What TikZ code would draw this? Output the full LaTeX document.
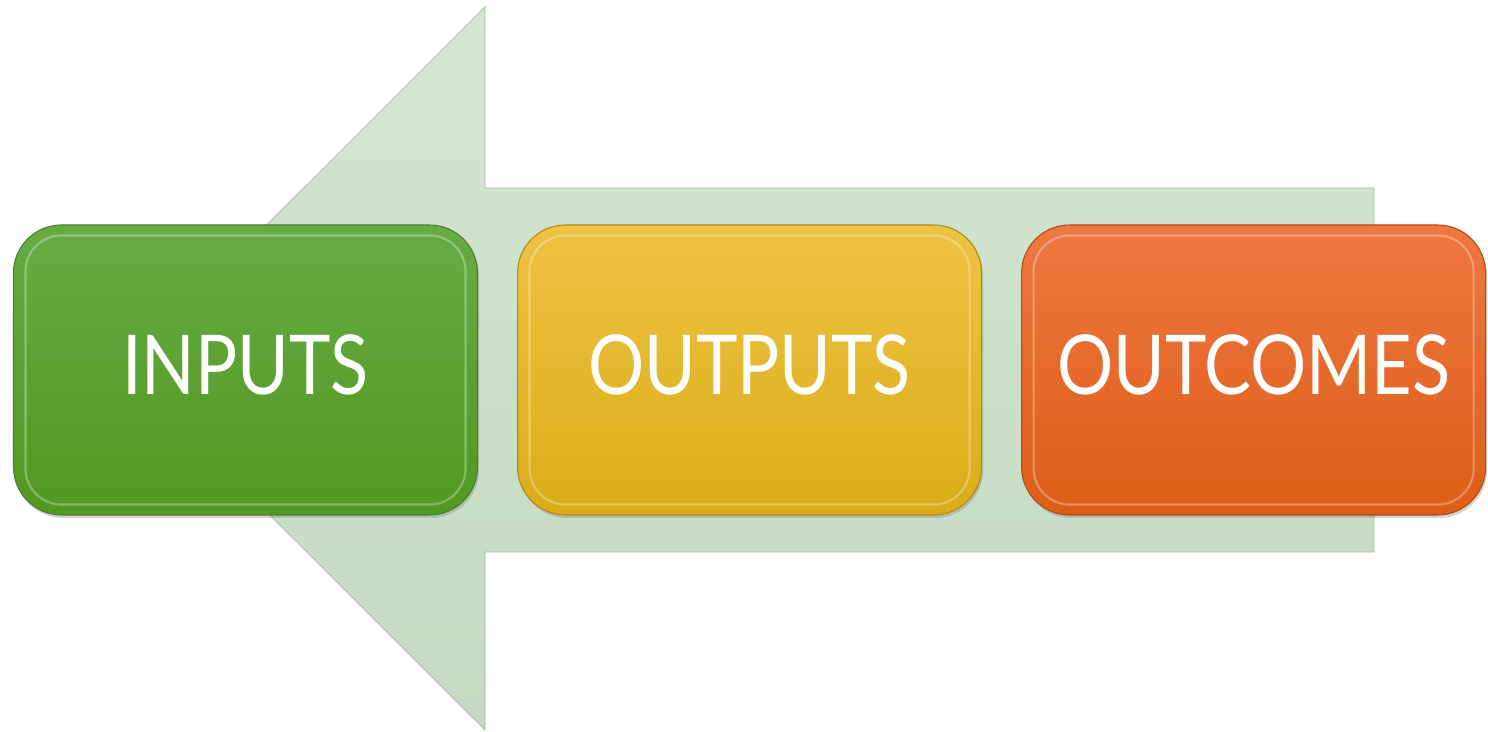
\documentclass[tikz,border=0pt]{standalone}
\usepackage{fontspec}
\setmainfont{Lato}[FakeStretch=0.85]
\usepackage{tikz}
\usetikzlibrary{positioning,shadows}

\definecolor{arrowtop}{HTML}{D5E6D2}
\definecolor{arrowbot}{HTML}{C4DAC1}
\definecolor{greentop}{HTML}{68AB45}
\definecolor{greenbot}{HTML}{519920}
\definecolor{greenrim}{HTML}{47802A}
\definecolor{yellowtop}{HTML}{EFC343}
\definecolor{yellowbot}{HTML}{D9AD18}
\definecolor{yellowrim}{HTML}{B08A10}
\definecolor{orangetop}{HTML}{EF7842}
\definecolor{orangebot}{HTML}{DC5E16}
\definecolor{orangerim}{HTML}{B04A12}

\begin{document}
\begin{tikzpicture}[
  stage/.style={rounded corners=0.96cm, minimum width=9.28cm, minimum height=5.8cm,
    inner sep=0pt, text=white, font=\fontsize{47}{50}\selectfont, line width=0.6pt,
    text depth=0.2cm,
    drop shadow={shadow xshift=0.03cm, shadow yshift=-0.06cm, opacity=0.35}},
  bevel/.style={rounded corners=0.72cm, line width=1.2pt, opacity=0.3},
  node distance=0.78cm]
  \useasboundingbox (0,0) rectangle (29.76,14.64);
  % big arrow behind
  \draw[top color=arrowtop, bottom color=arrowbot, draw=arrowbot!85!black, line width=0.4pt]
    (2.46,7.27) -- (9.7,14.5) -- (9.7,10.88) -- (27.48,10.88) -- (27.48,3.6)
    -- (9.7,3.6) -- (9.7,0.04) -- cycle;
  % stages
  \node[stage, top color=greentop, bottom color=greenbot, draw=greenrim]
    (inputs) at (4.91,7.24) {INPUTS};
  \node[stage, top color=yellowtop, bottom color=yellowbot, draw=yellowrim,
    right=of inputs] (outputs) {OUTPUTS};
  \node[stage, top color=orangetop, bottom color=orangebot, draw=orangerim,
    right=of outputs] (outcomes) {OUTCOMES};
  \foreach \n in {inputs,outputs,outcomes}
    \draw[bevel, white] ([shift={(0.25,-0.22)}]\n.north west) rectangle ([shift={(-0.25,0.22)}]\n.south east);
\end{tikzpicture}
\end{document}
